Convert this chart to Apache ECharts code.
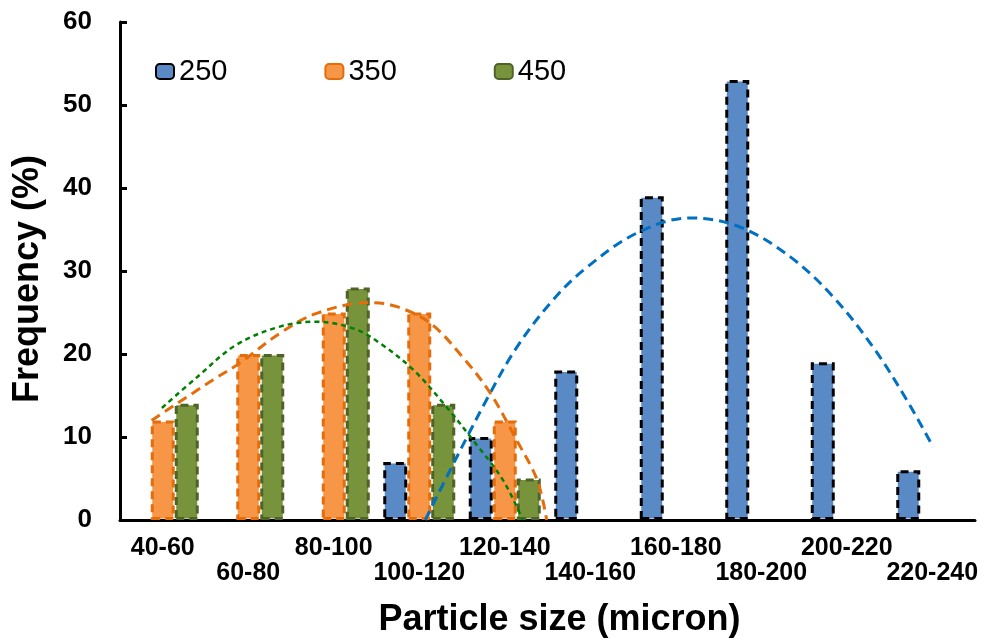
<!DOCTYPE html>
<html>
<head>
<meta charset="utf-8">
<script src="https://cdn.jsdelivr.net/npm/echarts@6/dist/echarts.min.js"></script>
<style>
  html, body { margin: 0; padding: 0; background: #fff; }
  #mainChart { width: 987px; height: 642px; }
</style>
</head>
<body>
<div id="mainChart"></div>
<script>
// particle size classes
var categories = ['40-60', '60-80', '80-100', '100-120', '120-140', '140-160', '160-180', '180-200', '200-220', '220-240'];
// frequency (%) per spray setting
var s250 = [null, null, null, 7, 10, 18, 39, 53, 19, 6];
var s350 = [12, 20, 25, 25, 12, null, null, null, null, null];
var s450 = [14, 20, 28, 14, 5, null, null, null, null, null];
// dashed trend curves as [class position, frequency]
var fit250 = [[3.57, 0], [3.92, 7.2], [4.33, 15.3], [4.64, 20.8], [5.03, 26.1], [5.42, 30.1], [6.05, 34.6], [6.67, 36.4], [7.25, 35.3], [7.84, 31.7], [8.34, 26.9], [8.81, 20.8], [9.2, 14.5], [9.51, 8.8]];
var fit350 = [[0.37, 12.0], [1.09, 16.9], [1.40, 18.9], [1.87, 22.5], [2.30, 24.9], [2.92, 26.2], [3.24, 25.7], [3.63, 23.7], [4.01, 19.6], [4.33, 15.3], [4.64, 9.6], [4.88, 4.8], [4.99, 0]];
var fit450 = [[0.49, 13.5], [0.90, 17.2], [1.36, 21.1], [1.87, 23.3], [2.30, 23.9], [2.75, 23.0], [3.04, 21.3], [3.43, 18.1], [3.82, 13.6], [4.13, 9.6], [4.48, 4.8], [4.71, 0]];

(function () {
	var myChart = echarts.init(document.getElementById('mainChart'));
	var font = '"Liberation Sans", Arial, sans-serif';

	function barSeries(name, data, fill, border) {
		return {
			name: name,
			type: 'bar',
			data: data,
			barWidth: 24,
			barGap: '0%',
			itemStyle: {
				color: fill,
				borderColor: border,
				borderWidth: 3,
				borderType: [8, 5]
			}
		};
	}
	function fitSeries(name, data, color, width, dash) {
		return {
			name: name,
			type: 'line',
			xAxisIndex: 1,
			data: data,
			smooth: 0.35,
			showSymbol: false,
			silent: true,
			z: 5,
			lineStyle: { color: color, width: width, type: dash }
		};
	}

	var option = {
		backgroundColor: '#ffffff',
		animation: false,
		grid: { left: 120, right: 12, top: 22, bottom: 122, outerBoundsMode: 'none' },
		legend: {
			data: ['250', '350', '450'],
			left: 150,
			top: 52,
			itemWidth: 18,
			itemHeight: 15,
			itemGap: 97,
			textStyle: { fontFamily: font, fontSize: 29, color: '#000' }
		},
		xAxis: [{
			type: 'category',
			data: categories,
			name: 'Particle size (micron)',
			nameLocation: 'middle',
			nameGap: 82,
			nameTextStyle: { fontFamily: font, fontSize: 36, fontWeight: 'bold', color: '#000', padding: [0, 0, 0, 24] },
			axisLine: { lineStyle: { color: '#000', width: 3 } },
			axisTick: { inside: true, length: 7, lineStyle: { color: '#000', width: 3 } },
			axisLabel: {
				interval: 0,
				margin: 16,
				fontFamily: font,
				fontSize: 25,
				fontWeight: 'bold',
				color: '#000',
				lineHeight: 25,
				formatter: function (v, i) { return i % 2 ? '\n' + v : v; }
			}
		}, {
			type: 'value',
			min: 0,
			max: 10,
			show: false
		}],
		yAxis: {
			type: 'value',
			min: 0,
			max: 60,
			interval: 10,
			name: 'Frequency (%)',
			nameLocation: 'middle',
			nameGap: 74,
			nameTextStyle: { fontFamily: font, fontSize: 36, fontWeight: 'bold', color: '#000', padding: [0, 16, 0, 0] },
			axisLine: { show: true, lineStyle: { color: '#000', width: 3 } },
			axisTick: { show: true, inside: true, length: 7, lineStyle: { color: '#000', width: 3 } },
			splitLine: { show: false },
			axisLabel: { margin: 28, fontFamily: font, fontSize: 26, fontWeight: 'bold', color: '#000' }
		},
		series: [
			barSeries('250', s250, '#5A8AC6', '#000000'),
			barSeries('350', s350, '#F79646', '#E46C0A'),
			barSeries('450', s450, '#77933C', '#4F6228'),
			fitSeries('fit250', fit250, '#0070C0', 3, [10, 6]),
			fitSeries('fit350', fit350, '#E46C0A', 3, [10, 6]),
			fitSeries('fit450', fit450, '#008000', 2.5, [5, 4])
		]
	};
	myChart.setOption(option, true);
})();
</script>
</body>
</html>
